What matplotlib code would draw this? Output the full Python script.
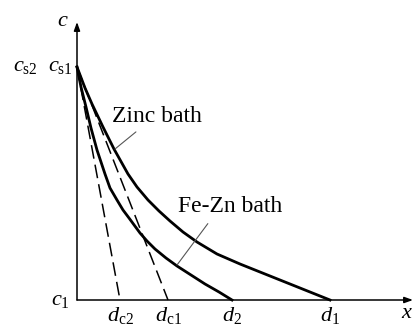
import matplotlib
matplotlib.use("Agg")
import matplotlib.pyplot as plt

plt.rcParams["font.family"] = ["Liberation Serif", "DejaVu Serif"]
plt.rcParams["mathtext.fontset"] = "custom"
plt.rcParams["mathtext.rm"] = "Liberation Serif"
plt.rcParams["mathtext.it"] = "Liberation Serif:italic"

# concentration profiles (x = distance, y = concentration)
zinc_x = [0, 8, 15, 26, 37, 51, 60, 71, 82, 93, 106, 120, 140, 163, 183, 203, 228, 253]
zinc_y = [233, 212, 196, 173, 151, 126, 113, 100, 89, 79, 68, 58, 46, 36, 28, 20, 10, 0]

fezn_x = [0, 4, 9, 14, 20, 28, 33, 40, 46, 52, 63, 70, 78, 89, 100, 114, 128, 142, 155]
fezn_y = [233, 213, 193, 172, 150, 126, 112, 100, 90, 82, 67, 59, 51, 42, 34, 25, 16, 8, 0]

# surface value and characteristic depths
c_s = 233
d_c1 = 91
d_c2 = 43
d_2 = 155
d_1 = 253

fig = plt.figure(figsize=(4.14, 3.25), dpi=100)
ax = fig.add_axes([0, 0, 1, 1])
ax.set_xlim(-77, 337)
ax.set_ylim(-25, 300)
ax.axis("off")

# axes with arrows
arrow = dict(arrowstyle="-|>,head_length=0.5,head_width=0.18",
             color="black", lw=1.1, shrinkA=0, shrinkB=0)
ax.annotate("", xy=(0, 278), xytext=(0, 0), arrowprops=arrow)
ax.annotate("", xy=(336, 0), xytext=(0, 0), arrowprops=arrow)

ax.plot(zinc_x, zinc_y, color="black", lw=2.0, solid_joinstyle="round")
ax.plot(fezn_x, fezn_y, color="black", lw=2.0, solid_joinstyle="round")
ax.plot([0, d_c1], [c_s, 0], color="black", lw=1.1, dashes=(9, 4))
ax.plot([0, d_c2], [c_s, 0], color="black", lw=1.1, dashes=(9, 4))

# leader lines and labels
ax.annotate("Zinc bath", xy=(38, 151), xytext=(35, 184), fontsize=17,
            va="center", ha="left",
            arrowprops=dict(arrowstyle="-", color="#555555", lw=0.8,
                            shrinkA=3, shrinkB=0, relpos=(0.34, 0.0)))
ax.annotate("Fe-Zn bath", xy=(100, 35), xytext=(101, 93), fontsize=17,
            va="center", ha="left",
            arrowprops=dict(arrowstyle="-", color="#555555", lw=0.8,
                            shrinkA=3, shrinkB=0, relpos=(0.33, 0.0)))

fs = 16
ax.text(-14, 278, r"$c$", fontsize=fs, ha="center", va="center")
ax.text(-52, c_s, r"$c_{\mathrm{s2}}$", fontsize=fs, ha="center", va="center")
ax.text(-17, c_s, r"$c_{\mathrm{s1}}$", fontsize=fs, ha="center", va="center")
ax.text(-17, 0, r"$c_{1}$", fontsize=fs, ha="center", va="center")
for xv, lab in [(d_c2, r"$d_{\mathrm{c2}}$"), (d_c1, r"$d_{\mathrm{c1}}$"),
                (d_2, r"$d_{2}$"), (d_1, r"$d_{1}$")]:
    ax.text(xv, -5, lab, fontsize=fs, ha="center", va="top")
ax.text(330, -13, r"$x$", fontsize=fs, ha="center", va="center")

fig.savefig("out.png", dpi=100)
